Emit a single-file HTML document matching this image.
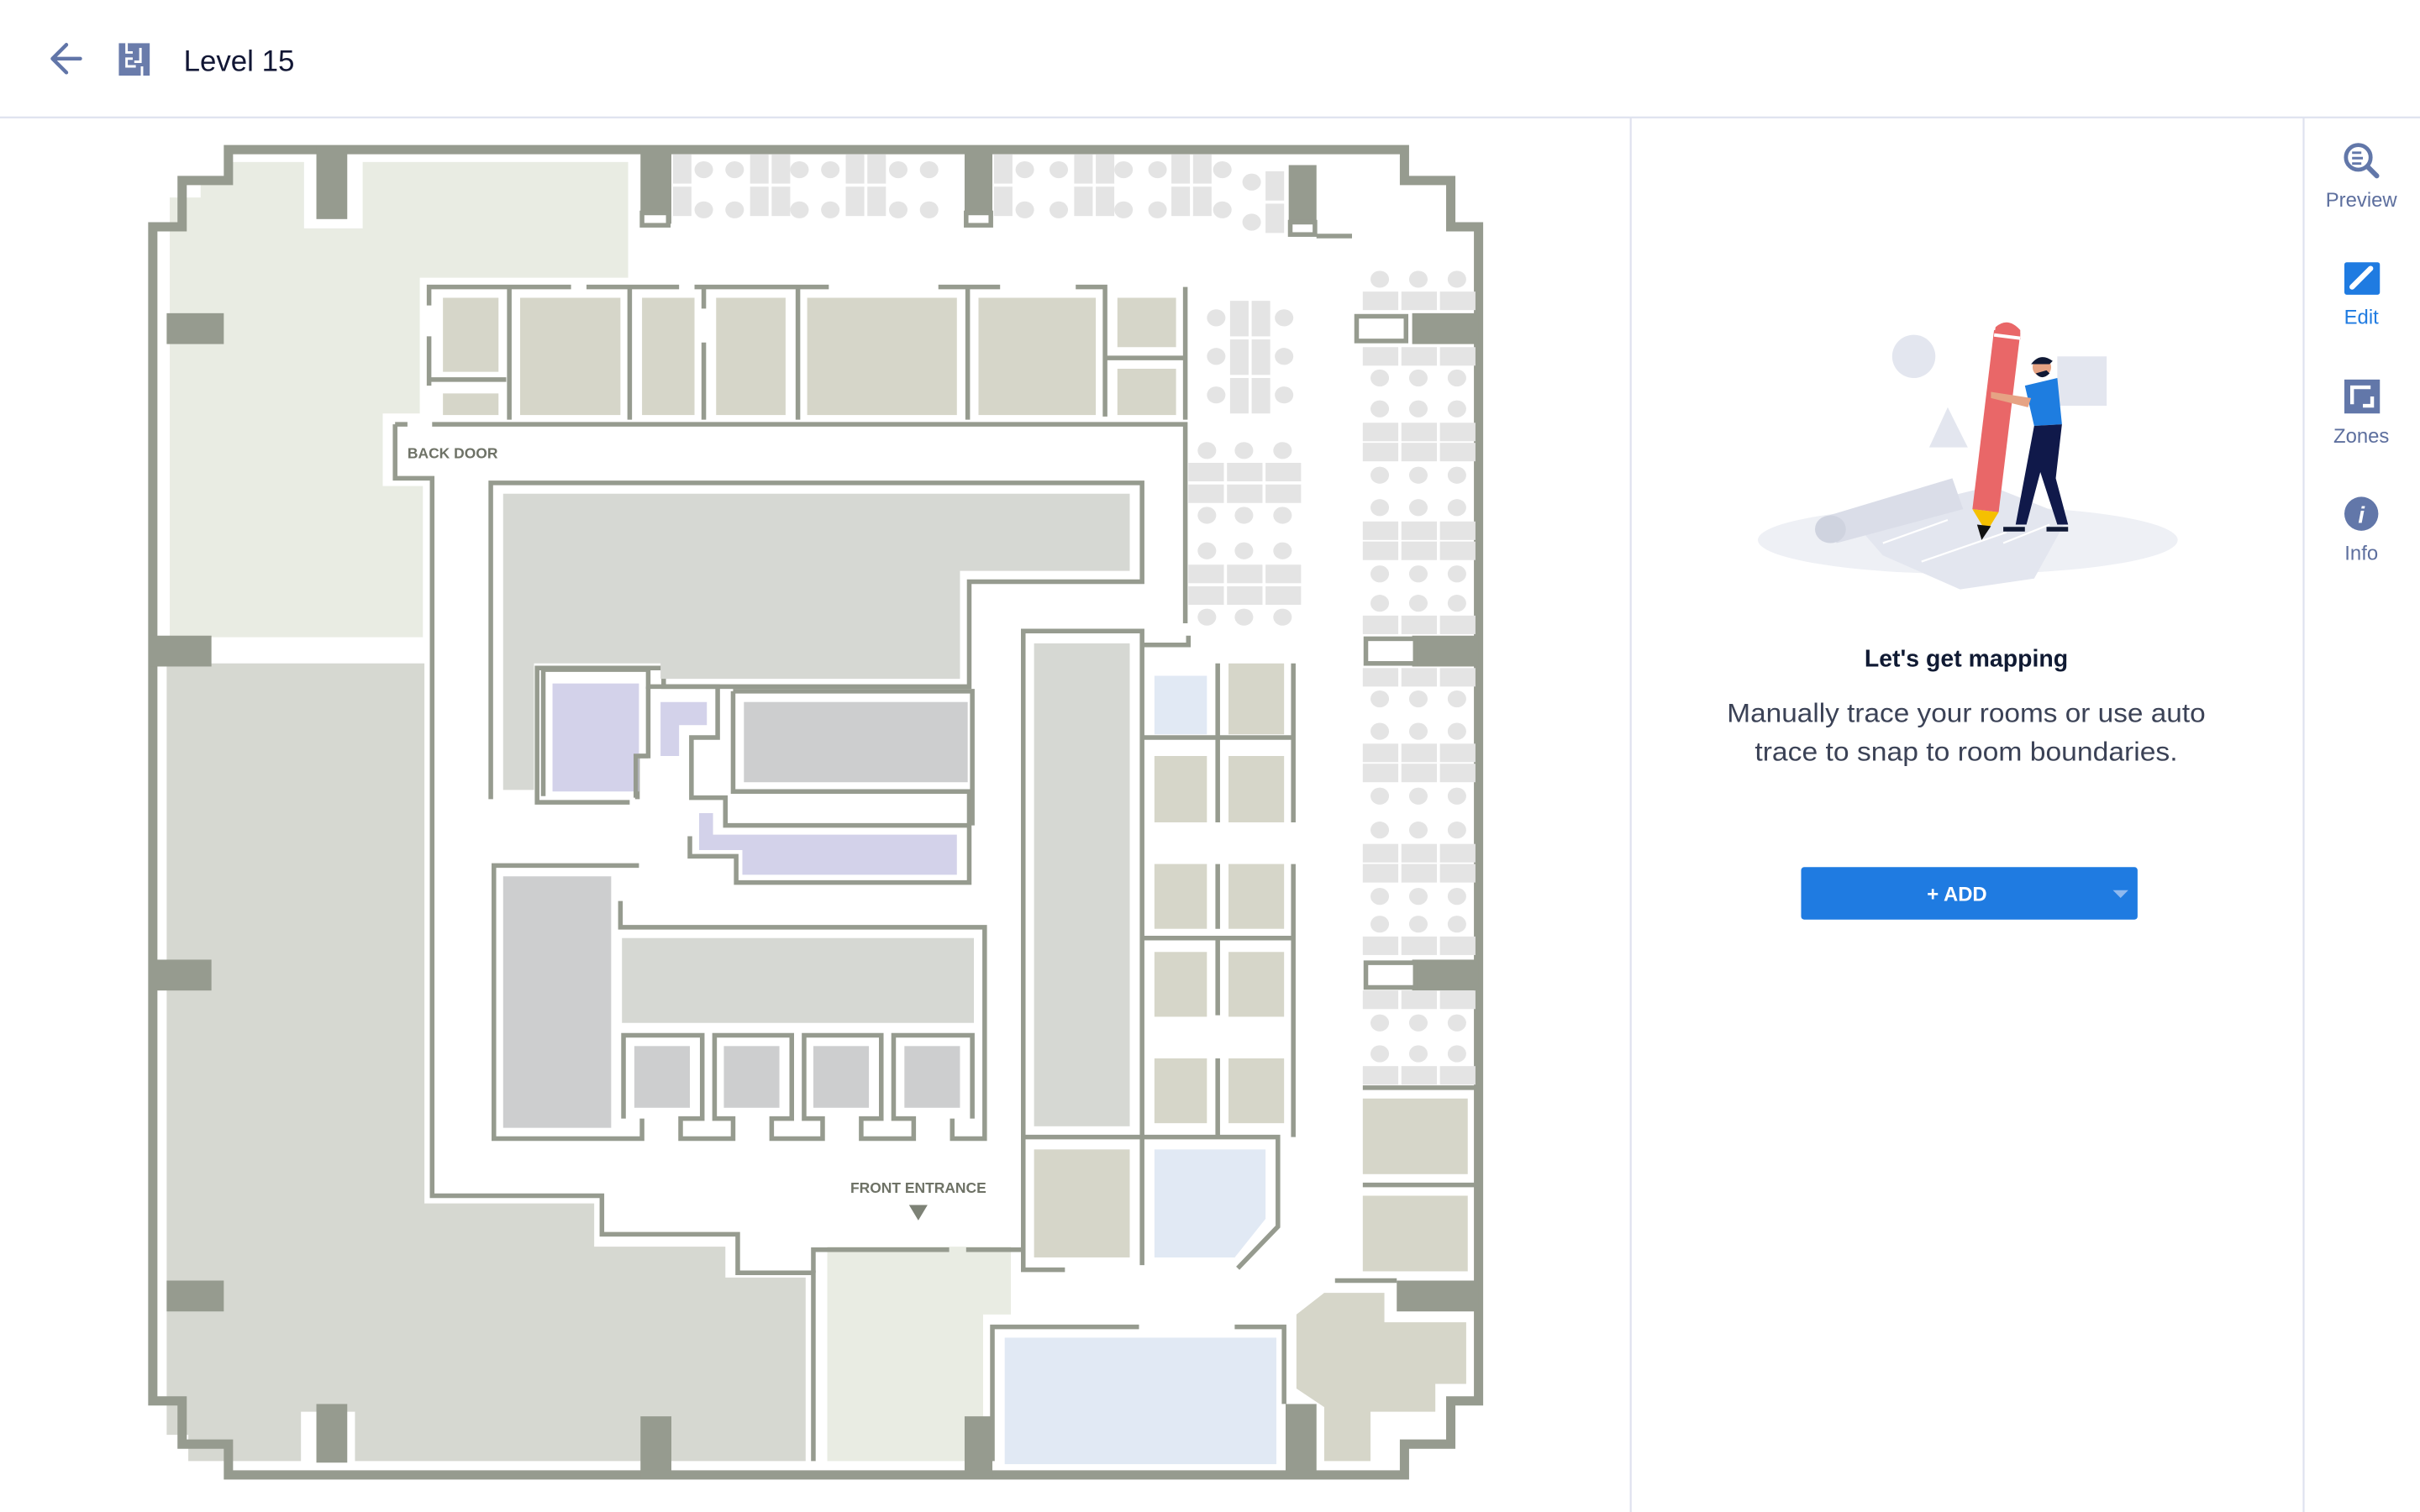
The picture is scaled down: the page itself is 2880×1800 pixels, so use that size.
<!DOCTYPE html>
<html><head><meta charset="utf-8"><style>
html,body{margin:0;padding:0;background:#fff;width:2880px;height:1800px;overflow:hidden}
svg{display:block}
text{font-family:"Liberation Sans",Arial,sans-serif}
</style></head><body>
<svg width="2880" height="1800" viewBox="0 0 1568 980" xmlns="http://www.w3.org/2000/svg">
<defs>
<g id="d3"><rect x="883" y="0" width="23" height="12"/><rect x="908" y="0" width="23" height="12"/><rect x="933" y="0" width="23" height="12"/></g>
<g id="c3"><ellipse cx="894" cy="0" rx="6" ry="5.5"/><ellipse cx="919" cy="0" rx="6" ry="5.5"/><ellipse cx="944" cy="0" rx="6" ry="5.5"/></g>
</defs>
<rect width="1568" height="980" fill="#fff"/>
<!-- header -->
<path d="M52 38 H35 M43 29 L34 38 L43 47" fill="none" stroke="#6175a8" stroke-width="2.4" stroke-linecap="round" stroke-linejoin="round"/>
<g fill="#6a7cab"><rect x="77" y="28" width="20" height="21"/></g>
<path d="M82 28 V34 H86 M86 38 H82 V43 H88 M91 31 V40 H87 M92 43 V49" fill="none" stroke="#fff" stroke-width="1.6"/>
<text x="119" y="46" font-size="19" fill="#111634">Level 15</text>
<rect x="0" y="75.5" width="1568" height="1.2" fill="#dfe2ef"/>
<rect x="1056" y="76" width="1.2" height="904" fill="#dfe2ef"/>
<rect x="1492" y="76" width="1.2" height="904" fill="#dfe2ef"/>

<!-- ===== FLOOR PLAN ===== -->
<g>
<polygon fill="#e9ece3" points="147,105 197,105 197,148 235,148 235,105 407,105 407,180 272,180 272,268 248,268 248,315 274,315 274,413 110,413 110,128 130,128 130,118 147,118"/>
<polygon fill="#d6d8d1" points="108,430 275,430 275,780 385,780 385,808 470,808 470,828 522,828 522,947 230,947 230,915 195,915 195,947 122,947 122,930 108,930"/>
<polygon fill="#e9ece3" points="536,808 655,808 655,852 637,852 637,947 536,947"/>
<rect x="651" y="867" width="176" height="82" fill="#e1e9f4"/>
<polygon fill="#d6d6c9" points="840,852 858,838 897,838 897,857 950,857 950,897 930,897 930,915 888,915 888,947 858,947 858,912 840,900"/>
<rect x="883" y="712" width="68" height="49" fill="#d6d6c9"/>
<rect x="883" y="775" width="68" height="49" fill="#d6d6c9"/>

<polygon fill="none" stroke="#969b8f" stroke-width="6" points="148,97 910,97 910,117 940,117 940,147 958,147 958,908 940,908 940,936 910,936 910,956 148,956 148,936 118,936 118,908 99,908 99,147 118,147 118,117 148,117"/>
<g fill="#969b8f">
<rect x="205" y="95" width="20" height="47"/>
<rect x="415" y="95" width="20" height="50"/>
<rect x="625" y="95" width="18" height="45"/>
<rect x="835" y="107" width="18" height="40"/>
<rect x="108" y="203" width="37" height="20"/>
<rect x="97" y="412" width="40" height="20"/>
<rect x="97" y="622" width="40" height="20"/>
<rect x="108" y="830" width="37" height="20"/>
<rect x="205" y="910" width="20" height="38"/>
<rect x="415" y="918" width="20" height="40"/>
<rect x="625" y="918" width="18" height="40"/>
<rect x="833" y="910" width="20" height="48"/>
<rect x="915" y="203" width="43" height="20"/>
<rect x="915" y="412" width="43" height="20"/>
<rect x="915" y="622" width="43" height="20"/>
<rect x="905" y="830" width="53" height="20"/>
</g>
<g fill="#fff" stroke="#969b8f" stroke-width="3">
<rect x="879" y="205" width="32" height="16"/>
<rect x="885" y="414" width="32" height="16"/>
<rect x="885" y="624" width="32" height="16"/>
<rect x="416" y="138" width="17" height="8"/>
<rect x="626" y="138" width="16" height="8"/>
<rect x="836" y="144" width="16" height="8"/>
</g>
<path d="M853 153 H876" stroke="#969b8f" stroke-width="3"/>

<g fill="#e4e4e4">
<rect x="436" y="100" width="12" height="19"/><rect x="436" y="121" width="12" height="19"/>
<rect x="486" y="100" width="12" height="19"/><rect x="500" y="100" width="12" height="19"/><rect x="486" y="121" width="12" height="19"/><rect x="500" y="121" width="12" height="19"/>
<rect x="548" y="100" width="12" height="19"/><rect x="562" y="100" width="12" height="19"/><rect x="548" y="121" width="12" height="19"/><rect x="562" y="121" width="12" height="19"/>
<rect x="644" y="100" width="12" height="19"/><rect x="644" y="121" width="12" height="19"/>
<rect x="696" y="100" width="12" height="19"/><rect x="710" y="100" width="12" height="19"/><rect x="696" y="121" width="12" height="19"/><rect x="710" y="121" width="12" height="19"/>
<rect x="759" y="100" width="12" height="19"/><rect x="773" y="100" width="12" height="19"/><rect x="759" y="121" width="12" height="19"/><rect x="773" y="121" width="12" height="19"/>
<rect x="820" y="111" width="12" height="19"/><rect x="820" y="132" width="12" height="19"/>
<ellipse cx="456" cy="110" rx="6" ry="5.5"/><ellipse cx="456" cy="136" rx="6" ry="5.5"/>
<ellipse cx="476" cy="110" rx="6" ry="5.5"/><ellipse cx="476" cy="136" rx="6" ry="5.5"/>
<ellipse cx="518" cy="110" rx="6" ry="5.5"/><ellipse cx="518" cy="136" rx="6" ry="5.5"/>
<ellipse cx="538" cy="110" rx="6" ry="5.5"/><ellipse cx="538" cy="136" rx="6" ry="5.5"/>
<ellipse cx="582" cy="110" rx="6" ry="5.5"/><ellipse cx="582" cy="136" rx="6" ry="5.5"/>
<ellipse cx="602" cy="110" rx="6" ry="5.5"/><ellipse cx="602" cy="136" rx="6" ry="5.5"/>
<ellipse cx="664" cy="110" rx="6" ry="5.5"/><ellipse cx="664" cy="136" rx="6" ry="5.5"/>
<ellipse cx="686" cy="110" rx="6" ry="5.5"/><ellipse cx="686" cy="136" rx="6" ry="5.5"/>
<ellipse cx="728" cy="110" rx="6" ry="5.5"/><ellipse cx="728" cy="136" rx="6" ry="5.5"/>
<ellipse cx="750" cy="110" rx="6" ry="5.5"/><ellipse cx="750" cy="136" rx="6" ry="5.5"/>
<ellipse cx="792" cy="110" rx="6" ry="5.5"/><ellipse cx="792" cy="136" rx="6" ry="5.5"/>
<ellipse cx="811" cy="118" rx="6" ry="5.5"/><ellipse cx="811" cy="144" rx="6" ry="5.5"/>
<rect x="797" y="195" width="12" height="23"/><rect x="811" y="195" width="12" height="23"/>
<rect x="797" y="220" width="12" height="23"/><rect x="811" y="220" width="12" height="23"/>
<rect x="797" y="245" width="12" height="23"/><rect x="811" y="245" width="12" height="23"/>
<ellipse cx="788" cy="206" rx="6" ry="5.5"/><ellipse cx="832" cy="206" rx="6" ry="5.5"/>
<ellipse cx="788" cy="231" rx="6" ry="5.5"/><ellipse cx="832" cy="231" rx="6" ry="5.5"/>
<ellipse cx="788" cy="256" rx="6" ry="5.5"/><ellipse cx="832" cy="256" rx="6" ry="5.5"/>
<rect x="770" y="300" width="23" height="12"/><rect x="795" y="300" width="23" height="12"/><rect x="820" y="300" width="23" height="12"/>
<rect x="770" y="314" width="23" height="12"/><rect x="795" y="314" width="23" height="12"/><rect x="820" y="314" width="23" height="12"/>
<rect x="770" y="366" width="23" height="12"/><rect x="795" y="366" width="23" height="12"/><rect x="820" y="366" width="23" height="12"/>
<rect x="770" y="380" width="23" height="12"/><rect x="795" y="380" width="23" height="12"/><rect x="820" y="380" width="23" height="12"/>
<ellipse cx="782" cy="292" rx="6" ry="5.5"/><ellipse cx="806" cy="292" rx="6" ry="5.5"/><ellipse cx="831" cy="292" rx="6" ry="5.5"/>
<ellipse cx="782" cy="334" rx="6" ry="5.5"/><ellipse cx="806" cy="334" rx="6" ry="5.5"/><ellipse cx="831" cy="334" rx="6" ry="5.5"/>
<ellipse cx="782" cy="357" rx="6" ry="5.5"/><ellipse cx="806" cy="357" rx="6" ry="5.5"/><ellipse cx="831" cy="357" rx="6" ry="5.5"/>
<ellipse cx="782" cy="400" rx="6" ry="5.5"/><ellipse cx="806" cy="400" rx="6" ry="5.5"/><ellipse cx="831" cy="400" rx="6" ry="5.5"/>
</g>
<g fill="#e4e4e4">
<use href="#d3" y="189"/><use href="#d3" y="225"/>
<use href="#d3" y="274"/><use href="#d3" y="287"/>
<use href="#d3" y="338"/><use href="#d3" y="351"/>
<use href="#d3" y="399"/><use href="#d3" y="433"/>
<use href="#d3" y="482"/><use href="#d3" y="495"/>
<use href="#d3" y="547"/><use href="#d3" y="560"/>
<use href="#d3" y="607"/><use href="#d3" y="642"/>
<use href="#d3" y="691"/>
<use href="#c3" y="181"/><use href="#c3" y="245"/><use href="#c3" y="265"/><use href="#c3" y="308"/><use href="#c3" y="329"/><use href="#c3" y="372"/><use href="#c3" y="391"/><use href="#c3" y="453"/><use href="#c3" y="474"/><use href="#c3" y="516"/><use href="#c3" y="538"/><use href="#c3" y="581"/><use href="#c3" y="599"/><use href="#c3" y="663"/><use href="#c3" y="683"/>
</g>

<g fill="#d6d6c9">
<rect x="287" y="193" width="36" height="48"/><rect x="287" y="255" width="36" height="14"/>
<rect x="337" y="193" width="65" height="76"/><rect x="416" y="193" width="34" height="76"/>
<rect x="464" y="193" width="45" height="76"/><rect x="523" y="193" width="97" height="76"/>
<rect x="634" y="193" width="76" height="76"/><rect x="724" y="193" width="38" height="32"/><rect x="724" y="239" width="38" height="30"/>
</g>
<g fill="none" stroke="#969b8f" stroke-width="3">
<path d="M278 198 V186 H370 M380 186 H440 M450 186 H537 M608 186 H648 M697 186 H716 V270"/>
<path d="M278 218 V250 M279 246 H328 M330 186 V272 M408 186 V272 M456 186 V200 M456 222 V272 M517 186 V272 M627 186 V272 M768 186 V272 M716 232 H768"/>
<path d="M280 275 H768 V404"/>
<path d="M256 275 H264 M256 275 V310 H280 V775 H390 V800 H478 V825 H527 V947"/>
<path d="M318 518 V313 H740 V377 H628 V445 H430 V433 H348 V520 H408 M413 518 V490 H420"/>
</g>
<polygon fill="#d6d8d3" points="326,320 732,320 732,370 622,370 622,440 428,440 428,430 346,430 346,512 326,512"/>
<rect x="358" y="443" width="56" height="70" fill="#d3d2ea"/>
<g fill="none" stroke="#969b8f" stroke-width="3">
<path d="M352 516 V434 H420 V445 H465 V478 H448 V517 H470 V535 H628 V572 H477 V555 H447 V542"/>
<path d="M420 445 V490 H412 V517"/>
<path d="M475 448 V513 H628 V535"/>
<path d="M475 448 H630 V535"/>
</g>
<polygon fill="#d3d2ea" points="428,455 458,455 458,470 440,470 440,490 428,490"/>
<rect x="482" y="455" width="145" height="52" fill="#cdcecf"/>
<polygon fill="#d3d2ea" points="453,527 462,527 462,541 620,541 620,567 481,567 481,551 453,551"/>
<g fill="none" stroke="#969b8f" stroke-width="3">
<path d="M414 561 H320 V738 H416 V725 M402 584 V601 H638 V738 H617 V725"/>
<path d="M404 725 V671 H455 V725 H441 V738 H475 V725 H463 V671 H513 V725 H500 V738 H533 V725 H521 V671 H571 V725 H558 V738 H592 V725 H579 V671 H630 V725"/>
</g>
<rect x="326" y="568" width="70" height="163" fill="#cdcecf"/>
<rect x="403" y="608" width="228" height="55" fill="#d6d8d3"/>
<g fill="#cdcecf"><rect x="411" y="678" width="36" height="40"/><rect x="469" y="678" width="36" height="40"/><rect x="527" y="678" width="36" height="40"/><rect x="586" y="678" width="36" height="40"/></g>
<g fill="none" stroke="#969b8f" stroke-width="3">
<path d="M663 409 H740 V737 H663 Z"/>
<path d="M740 418 H770 V412"/>
<path d="M740 478 H838 M789 430 V533 M838 430 V533 M789 560 V602 M838 560 V737 M740 608 H838 M789 608 V658 M789 686 V737 M740 737 H828 V795 L802 822"/>
<path d="M740 737 V820 M663 737 V823 H690"/>
<path d="M527 825 V810 H615 M626 810 H663"/>
<path d="M643 947 V860 H738 M800 860 H832 V910"/>
<path d="M865 830 H905 M883 705 H958 M883 768 H958"/>
</g>
<rect x="670" y="417" width="62" height="313" fill="#d6d8d3"/>
<g fill="#d6d6c9">
<rect x="796" y="430" width="36" height="46"/>
<rect x="748" y="490" width="34" height="43"/><rect x="796" y="490" width="36" height="43"/>
<rect x="748" y="560" width="34" height="42"/><rect x="796" y="560" width="36" height="42"/>
<rect x="748" y="617" width="34" height="42"/><rect x="796" y="617" width="36" height="42"/>
<rect x="748" y="686" width="34" height="42"/><rect x="796" y="686" width="36" height="42"/>
<rect x="670" y="745" width="62" height="70"/>
</g>
<rect x="748" y="438" width="34" height="38" fill="#e1e9f4"/>
<polygon fill="#e1e9f4" points="748,745 820,745 820,790 800,815 748,815"/>
<text x="264" y="297" font-size="9.5" font-weight="bold" fill="#6e7266">BACK DOOR</text>
<text x="595" y="773" font-size="9.5" font-weight="bold" fill="#6e7266" text-anchor="middle">FRONT ENTRANCE</text>
<polygon points="589,781 601,781 595,791" fill="#7d8276"/>
</g>

<!-- illustration -->
<ellipse cx="1275" cy="350" rx="136" ry="22" fill="#eef0f5"/>
<circle cx="1240" cy="231" r="14" fill="#e3e6ef"/>
<polygon points="1250,290 1262,264 1275,290" fill="#e3e6ef"/>
<rect x="1333" y="231" width="32" height="32" fill="#e3e6ef"/>
<polygon points="1200,337 1290,315 1340,335 1318,375 1270,382 1220,360" fill="#e3e6ef"/>
<polygon points="1182,335 1265,310 1272,330 1190,352" fill="#dadde8"/>
<ellipse cx="1186" cy="343" rx="10" ry="9" fill="#cfd3df"/>
<path d="M1220 352 L1262 337 M1245 364 L1300 345 M1298 352 L1328 340" stroke="#fff" stroke-width="1.2" fill="none"/>
<polygon points="1292,214 1309,216 1295,332 1278,330" fill="#e96768"/>
<path d="M1293 212 Q1301 205 1309 214 L1309 220 L1292 218 Z" fill="#e96768"/>
<rect x="1292" y="217" width="17" height="2.2" fill="#fff" transform="rotate(7 1300 218)"/>
<polygon points="1278,330 1295,332 1287,345" fill="#f5c000"/>
<polygon points="1281,340 1290,341 1284,350" fill="#111"/>
<circle cx="1323" cy="238" r="6" fill="#e6a384"/>
<path d="M1316 236 Q1322 228 1330 234 L1328 236 Z" fill="#101935"/>
<path d="M1319 242 Q1323 247 1328 242 L1326 240 Z" fill="#101935"/>
<polygon points="1312,250 1333,245 1336,275 1318,276" fill="#1e7de0"/>
<polygon points="1290,254 1316,258 1314,264 1290,258" fill="#e6a384"/>
<polygon points="1318,276 1336,275 1332,310 1340,340 1333,340 1322,306 1313,340 1306,340" fill="#10194a"/>
<path d="M1298 343 H1312 M1326 343 H1340" stroke="#101935" stroke-width="3"/>

<text x="1274" y="432" font-size="15.5" font-weight="bold" fill="#101a33" text-anchor="middle">Let's get mapping</text>
<text x="1274" y="468" font-size="17" fill="#3b4256" text-anchor="middle" textLength="310" lengthAdjust="spacingAndGlyphs">Manually trace your rooms or use auto</text>
<text x="1274" y="493" font-size="17" fill="#3b4256" text-anchor="middle" textLength="274" lengthAdjust="spacingAndGlyphs">trace to snap to room boundaries.</text>
<rect x="1167" y="562" width="218" height="34" rx="2" fill="#1f7be1"/>
<text x="1268" y="584" font-size="13" font-weight="bold" fill="#fff" text-anchor="middle">+ ADD</text>
<polygon points="1369,577 1379,577 1374,582" fill="#8fb9ef"/>

<!-- sidebar -->
<circle cx="1528" cy="102" r="8" fill="none" stroke="#6277a9" stroke-width="2.6"/>
<path d="M1534 108 L1540 114" stroke="#6277a9" stroke-width="3.2" stroke-linecap="round"/>
<path d="M1524 99 H1530 M1524 102.5 H1531 M1524 106 H1530" stroke="#6277a9" stroke-width="1.6"/>
<text x="1530" y="134" font-size="13" fill="#5d6f9e" text-anchor="middle">Preview</text>
<rect x="1519" y="170" width="23" height="21" rx="1.5" fill="#1f7be1"/>
<path d="M1524 186 L1536 174" stroke="#fff" stroke-width="3.4" stroke-linecap="round"/>
<text x="1530" y="210" font-size="13" fill="#1f7be1" text-anchor="middle">Edit</text>
<rect x="1519" y="246" width="23" height="22" fill="#6277a9"/>
<path d="M1524 262 V251 H1536 M1537 257 V263 H1531" fill="none" stroke="#fff" stroke-width="2.4"/>
<text x="1530" y="287" font-size="13" fill="#5d6f9e" text-anchor="middle">Zones</text>
<circle cx="1530" cy="333" r="11" fill="#6277a9"/>
<text x="1530" y="339" font-size="15" font-weight="bold" font-style="italic" fill="#fff" text-anchor="middle" font-family="Liberation Serif">i</text>
<text x="1530" y="363" font-size="13" fill="#5d6f9e" text-anchor="middle">Info</text>
</svg>
</body></html>
